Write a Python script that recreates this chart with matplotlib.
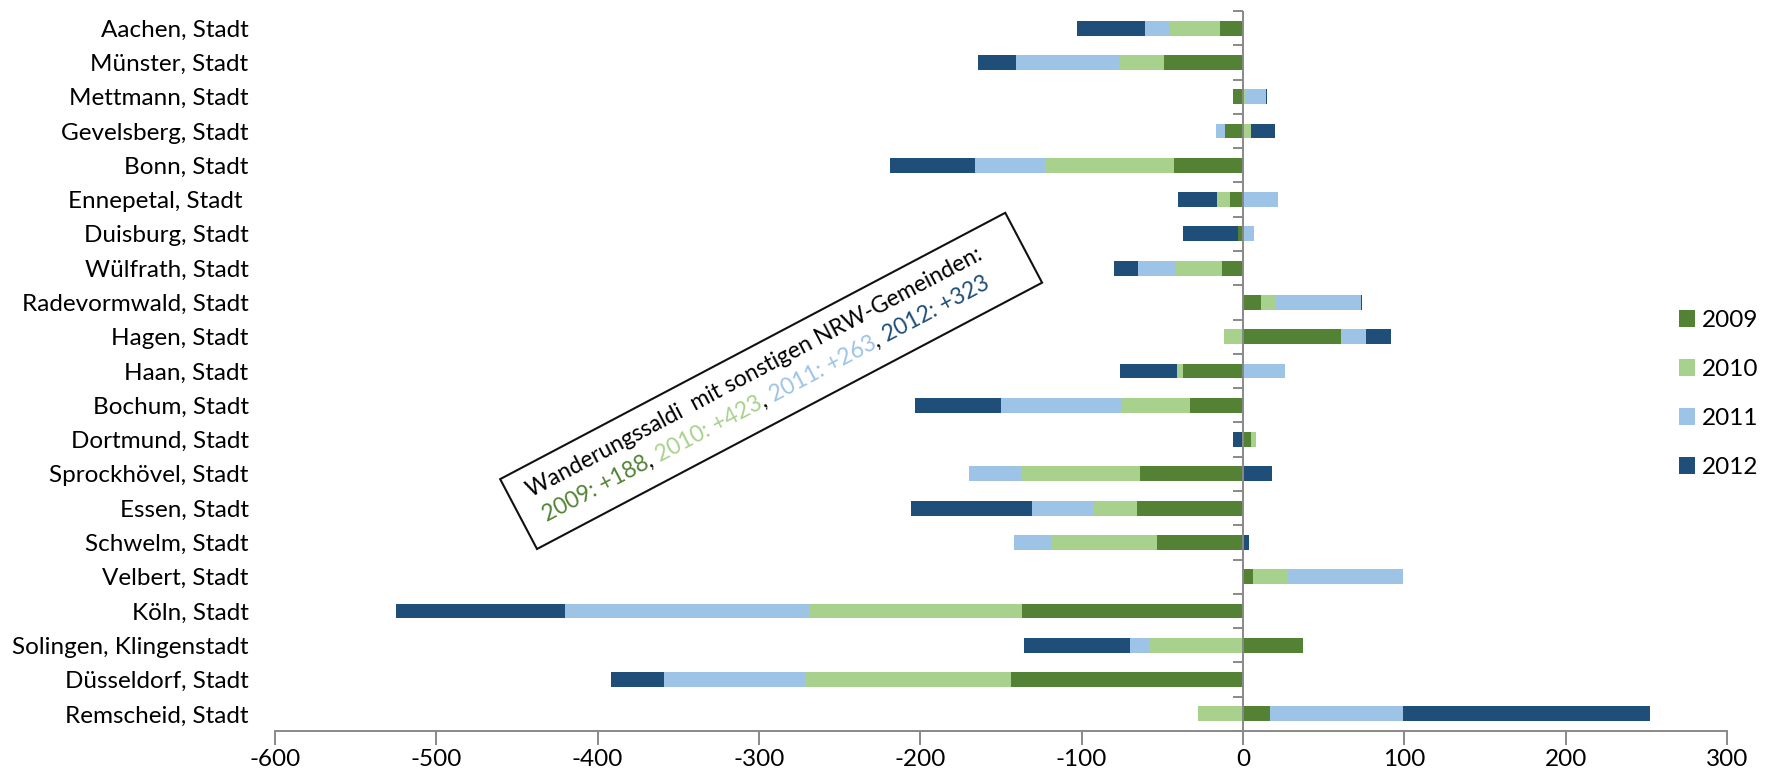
import numpy as np
import matplotlib
matplotlib.use("Agg")
import matplotlib.pyplot as plt
from matplotlib.patches import Patch, Rectangle

# categories, top to bottom
cities = ["Aachen, Stadt", "Münster, Stadt", "Mettmann, Stadt", "Gevelsberg, Stadt",
          "Bonn, Stadt", "Ennepetal, Stadt ", "Duisburg, Stadt", "Wülfrath, Stadt",
          "Radevormwald, Stadt", "Hagen, Stadt", "Haan, Stadt", "Bochum, Stadt",
          "Dortmund, Stadt", "Sprockhövel, Stadt", "Essen, Stadt", "Schwelm, Stadt",
          "Velbert, Stadt", "Köln, Stadt", "Solingen, Klingenstadt", "Düsseldorf, Stadt",
          "Remscheid, Stadt"]
years = ["2009", "2010", "2011", "2012"]
v2009 = [-14, -49, -6, -11, -43, -8, -3, -13, 11, 61, -37, -33, 5, -64, -66, -53, 6, -137, 37, -144, 17]
v2010 = [-31, -28, 2, 5, -80, -8, 0, -29, 9, -12, -4, -42, 3, -73, -27, -66, 22, -132, -58, -127, -28]
v2011 = [-16, -64, 12, -6, -43, 22, 7, -23, 53, 15, 26, -75, 0, -33, -38, -23, 71, -151, -12, -88, 82]
v2012 = [-42, -23, 1, 15, -53, -24, -34, -15, 1, 16, -35, -53, -6, 18, -75, 4, 0, -105, -66, -33, 153]
x_ticks = [-600, -500, -400, -300, -200, -100, 0, 100, 200, 300]

note_title = "Wanderungssaldi  mit sonstigen NRW-Gemeinden:"
note_totals = ["2009: +188", "2010: +423", "2011: +263", "2012: +323"]

colors = ["#548235", "#A9D18E", "#9DC3E6", "#1F4E79"]
gray = "#898989"

plt.rcParams['font.family'] = ['Lato', 'DejaVu Sans']

W, H = 1769, 779
fig = plt.figure(figsize=(W / 100, H / 100), dpi=100)
ax = fig.add_axes([275 / W, 1 - 731 / H, (1727 - 275) / W, (731 - 11) / H])

y = np.arange(len(cities))
pos = np.zeros(len(cities))
neg = np.zeros(len(cities))
for vals, c, lab in zip([v2009, v2010, v2011, v2012], colors, years):
    vals = np.array(vals, dtype=float)
    left = np.where(vals >= 0, pos, neg)
    ax.barh(y, vals, left=left, height=0.43, color=c, label=lab, linewidth=0)
    pos += np.clip(vals, 0, None)
    neg += np.clip(vals, None, 0)

ax.set_xlim(-600, 300)
ax.set_ylim(len(cities) - 0.5, -0.5)

ax.set_xticks(x_ticks)
ax.set_xticklabels([str(t) for t in x_ticks])
ax.set_yticks(y)
ax.set_yticklabels(cities)

for s in ["top", "right", "left"]:
    ax.spines[s].set_visible(False)
ax.spines["bottom"].set_color(gray)
ax.spines["bottom"].set_linewidth(1.4)
ax.tick_params(axis="x", colors=gray, labelcolor="black", length=10, width=1.4,
               direction="out", pad=3, labelsize=17.5)
ax.tick_params(axis="y", length=0, pad=19, labelsize=17.5)

# vertical category axis at zero, with ticks between categories
tick_len = (600 + 300) * 10 / (1727 - 275)
ax.axvline(0, color=gray, lw=1.4, zorder=3)
ax.hlines(np.arange(len(cities) + 1) - 0.5, -tick_len, 0, color=gray, lw=1.4, zorder=3,
          clip_on=False)

handles = [Patch(facecolor=c, edgecolor="none") for c in colors]
fig.legend(handles, years, loc="center left", bbox_to_anchor=(1679 / W, 1 - 394 / H),
           frameon=False, fontsize=17.5, handlelength=0.65, handleheight=0.65,
           handletextpad=0.3, labelspacing=1.15, borderpad=0, borderaxespad=0)

# rotated note box (positions in inches)
ang = 27.8
rad = np.deg2rad(ang)
d = np.array([np.cos(rad), np.sin(rad)])
p = np.array([-np.sin(rad), np.cos(rad)])
bl = np.array([537, H - 549]) / 100.0
box = Rectangle(tuple(bl), 5.71, 0.79, angle=ang, fill=False, edgecolor="#111111",
                linewidth=1.5, transform=fig.dpi_scale_trans)
fig.add_artist(box)

renderer = fig.canvas.get_renderer()
fs_note = 16.5


def text_width(s):
    t = fig.text(0, 0, s, fontsize=fs_note)
    w = t.get_window_extent(renderer).width / 100.0
    t.remove()
    return w


start1 = bl + 0.19 * d + 0.48 * p
fig.text(start1[0], start1[1], note_title, fontsize=fs_note, color="black",
         rotation=ang, rotation_mode="anchor", ha="left", va="baseline",
         transform=fig.dpi_scale_trans)

start2 = bl + 0.21 * d + 0.19 * p
pieces = []
for i, (s, c) in enumerate(zip(note_totals, colors)):
    pieces.append(((" " if i else "") + s, c))
    if i < len(note_totals) - 1:
        pieces.append((",", "black"))
cur = start2.copy()
for s, c in pieces:
    fig.text(cur[0], cur[1], s, fontsize=fs_note, color=c, rotation=ang,
             rotation_mode="anchor", ha="left", va="baseline",
             transform=fig.dpi_scale_trans)
    cur = cur + text_width(s) * d

fig.savefig("out.png", dpi=100)
